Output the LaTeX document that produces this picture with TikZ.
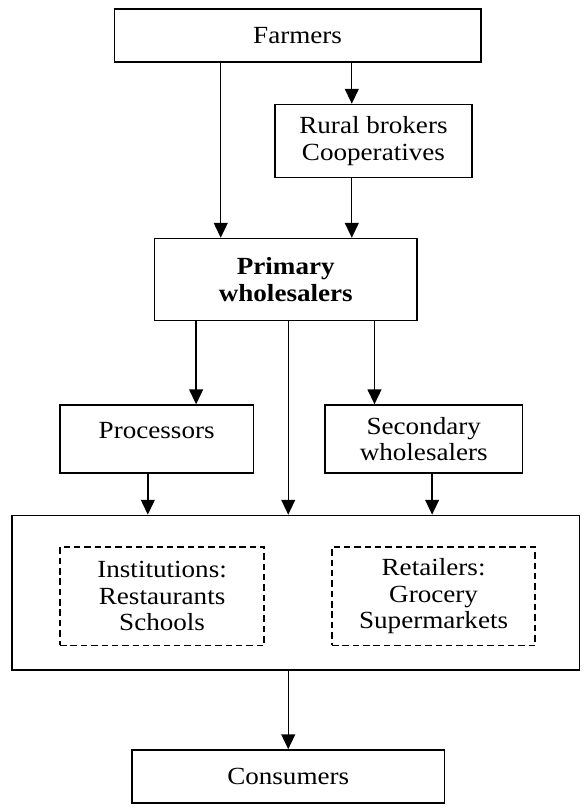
\documentclass[tikz,border=0pt]{standalone}
\usepackage{fontspec}
\setmainfont{Liberation Serif}[FakeStretch=1.1]
\usetikzlibrary{arrows.meta}
\begin{document}
\begin{tikzpicture}[x=1pt,y=-1pt,
  box/.style={draw,line width=1.5pt,inner sep=0pt,align=center,font=\fontsize{25}{27}\selectfont},
  dbox/.style={box,line width=1.3pt,dash pattern=on 6.5pt off 4pt},
  txt/.style={inner sep=0pt,align=center,font=\fontsize{25}{27}\selectfont},
  arr/.style={-{Triangle[length=15pt,width=14pt]},line width=1.4pt}
]
\useasboundingbox (0,0) rectangle (596,824);
\node[box,minimum width=372pt,minimum height=54pt] (farm) at (302,36) {Farmers};
\node[box,minimum width=200pt,minimum height=74pt] (rural) at (379,143) {Rural brokers\\Cooperatives};
\node[box,minimum width=266pt,minimum height=83pt,font=\fontsize{25}{27}\selectfont\bfseries] (prim) at (290,283.5) {Primary\\wholesalers};
\node[box,minimum width=196pt,minimum height=69pt] (proc) at (159,445.5) {};
\node[txt] (proct) at (159,437) {Processors};
\node[box,minimum width=200pt,minimum height=69pt] (sec) at (430,445.5) {Secondary\\wholesalers};
\node[box,minimum width=576pt,minimum height=157pt] (big) at (300,601.5) {};
\node[dbox,minimum width=207pt,minimum height=100pt] (inst) at (164.5,605) {Institutions:\\Restaurants\\Schools};
\node[dbox,minimum width=206pt,minimum height=100pt] (ret) at (440,605) {Retailers:\\Grocery\\Supermarkets};
\node[box,minimum width=317pt,minimum height=54pt] (cons) at (292.5,788) {Consumers};

\draw[arr] (farm.south -| 224,0) -- (prim.north -| 224,0);
\draw[arr] (farm.south -| 357,0) -- (rural.north -| 357,0);
\draw[arr] (rural.south -| 357,0) -- (prim.north -| 357,0);
\draw[arr] (prim.south -| 199,0) -- (proc.north -| 199,0);
\draw[arr] (prim.south -| 292.5,0) -- (big.north -| 292.5,0);
\draw[arr] (prim.south -| 380,0) -- (sec.north -| 380,0);
\draw[arr] (proc.south -| 150,0) -- (big.north -| 150,0);
\draw[arr] (sec.south -| 438.5,0) -- (big.north -| 438.5,0);
\draw[arr] (big.south -| 292.5,0) -- (cons.north -| 292.5,0);
\end{tikzpicture}
\end{document}
